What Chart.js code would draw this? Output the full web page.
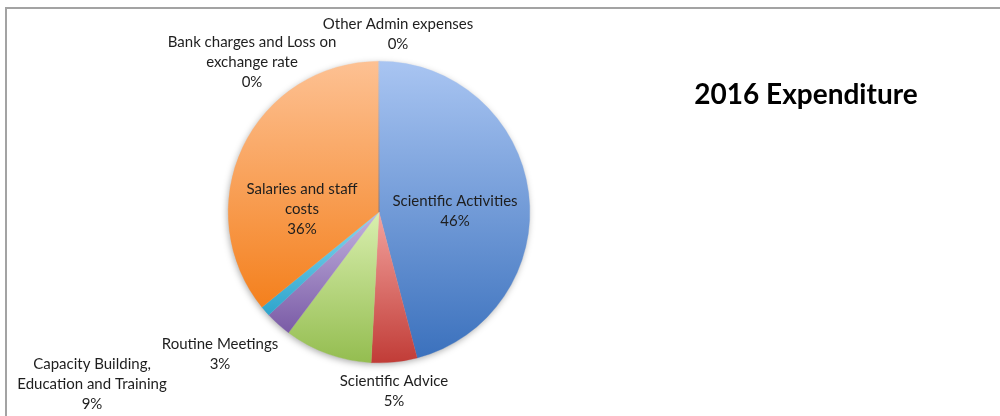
<!DOCTYPE html>
<html>
<head>
<meta charset="utf-8">
<script src="https://cdn.jsdelivr.net/npm/chart.js@4.4.1/dist/chart.umd.min.js"></script>
<style>
  html, body { margin: 0; padding: 0; background: #fff; }
  #wrap { position: relative; width: 1000px; height: 416px; overflow: hidden; }
  #frame { position: absolute; left: 5px; top: 7px; width: 1000px; height: 420px;
           border-top: 2px solid #a3a3a3; border-left: 2px solid #a3a3a3; box-sizing: border-box; }
  #grafico { position: absolute; left: 0; top: 0; }
</style>
</head>
<body>
<div id="wrap">
  <div id="frame"></div>
  <canvas id="grafico" width="1000" height="416"></canvas>
</div>
<script>
// categorias (en orden horario desde las 12)
const categorias = [
    ['Scientific Activities'],
    ['Scientific Advice'],
    ['Capacity Building,', 'Education and Training'],
    ['Routine Meetings'],
    [''],
    ['Salaries and staff', 'costs'],
    ['Bank charges and Loss on', 'exchange rate'],
    ['Other Admin expenses']
]

// gasto 2016 en %
const valores = [45.9, 4.9, 9.4, 2.8, 1.1, 35.8, 0.02, 0.02]

const titulo = '2016 Expenditure'

// colores degradados: claro arriba, oscuro abajo
const colorClaro  = ['#a9c5f2', '#f3a39e', '#d9efaf', '#c3b3df', '#86d7ee', '#fdc193', '#fdc193', '#a9c5f2']
const colorOscuro = ['#3b71bd', '#c13c37', '#94bd50', '#7a5ba6', '#2ea4cc', '#f4801d', '#f4801d', '#3b71bd']

// posicion de las etiquetas respecto al centro del pie (px)
const posEtiqueta = [
    [76, -1],
    [15, 179],
    [-287, 172],
    [-159, 142],
    null,
    [-77, -3],
    [-127, -150],
    [19, -178]
]

const degradados = {
    id: 'degradados',
    beforeDatasetsDraw(chart) {
        const ctx = chart.ctx
        const meta = chart.getDatasetMeta(0)

        // sombra suave bajo el pie
        const a0 = meta.data[0]
        ctx.save()
        ctx.shadowColor = 'rgba(0,0,0,0.35)'
        ctx.shadowBlur = 7
        ctx.shadowOffsetX = -1
        ctx.shadowOffsetY = 2
        ctx.fillStyle = '#ddd'
        ctx.beginPath()
        ctx.arc(a0.x, a0.y, a0.outerRadius - 0.5, 0, Math.PI * 2)
        ctx.fill()
        ctx.restore()

        meta.data.forEach(function(arc, i){
            const p = arc.getProps(['x', 'y', 'startAngle', 'endAngle', 'outerRadius'])
            const r = p.outerRadius
            let ys = [p.y, p.y + r * Math.sin(p.startAngle), p.y + r * Math.sin(p.endAngle)]
            for (let k = -2; k <= 4; k++) {
                const a = k * Math.PI / 2
                if (a > p.startAngle && a < p.endAngle) ys.push(p.y + r * Math.sin(a))
            }
            const arriba = Math.min(...ys)
            const abajo = Math.max(...ys)
            const g = ctx.createLinearGradient(0, arriba, 0, abajo + 0.01)
            g.addColorStop(0, colorClaro[i])
            g.addColorStop(1, colorOscuro[i])
            arc.options = Object.assign({}, arc.options, { backgroundColor: g, borderColor: g })
        })
    }
}

const etiquetas = {
    id: 'etiquetas',
    afterDatasetsDraw(chart) {
        const ctx = chart.ctx
        const meta = chart.getDatasetMeta(0)
        const cx = meta.data[0].x
        const cy = meta.data[0].y
        const total = valores.reduce((a, b) => a + b, 0)

        ctx.save()
        ctx.textAlign = 'center'
        ctx.textBaseline = 'middle'
        ctx.fillStyle = '#1e1e1e'
        ctx.font = '15px Lato'
        categorias.forEach(function(lineas, i){
            if (!posEtiqueta[i]) return
            const texto = lineas.concat([Math.round(valores[i] / total * 100) + '%'])
            const alto = 20.3
            const y0 = cy + posEtiqueta[i][1] - (texto.length - 1) * alto / 2
            texto.forEach(function(t, k){
                ctx.fillText(t, cx + posEtiqueta[i][0], y0 + k * alto)
            })
        })

        ctx.fillStyle = '#000'
        ctx.font = 'bold 28px Lato'
        ctx.fillText(titulo, 806, 95)
        ctx.restore()
    }
}

new Chart(document.getElementById('grafico'), {
    type: 'pie',
    plugins: [degradados, etiquetas],
    data: {
        labels: categorias,
        datasets: [{
            data: valores,
            backgroundColor: colorOscuro,
            borderWidth: 0.3,
            offset: 0,
            hoverOffset: 0
        }]
    },
    options: {
        responsive: false,
        animation: false,
        events: [],
        layout: {
            padding: { left: 228, right: 470, top: 61, bottom: 53 }
        },
        plugins: {
            legend: { display: false },
            tooltip: { enabled: false },
            title: { display: false }
        }
    }
})
</script>
</body>
</html>
